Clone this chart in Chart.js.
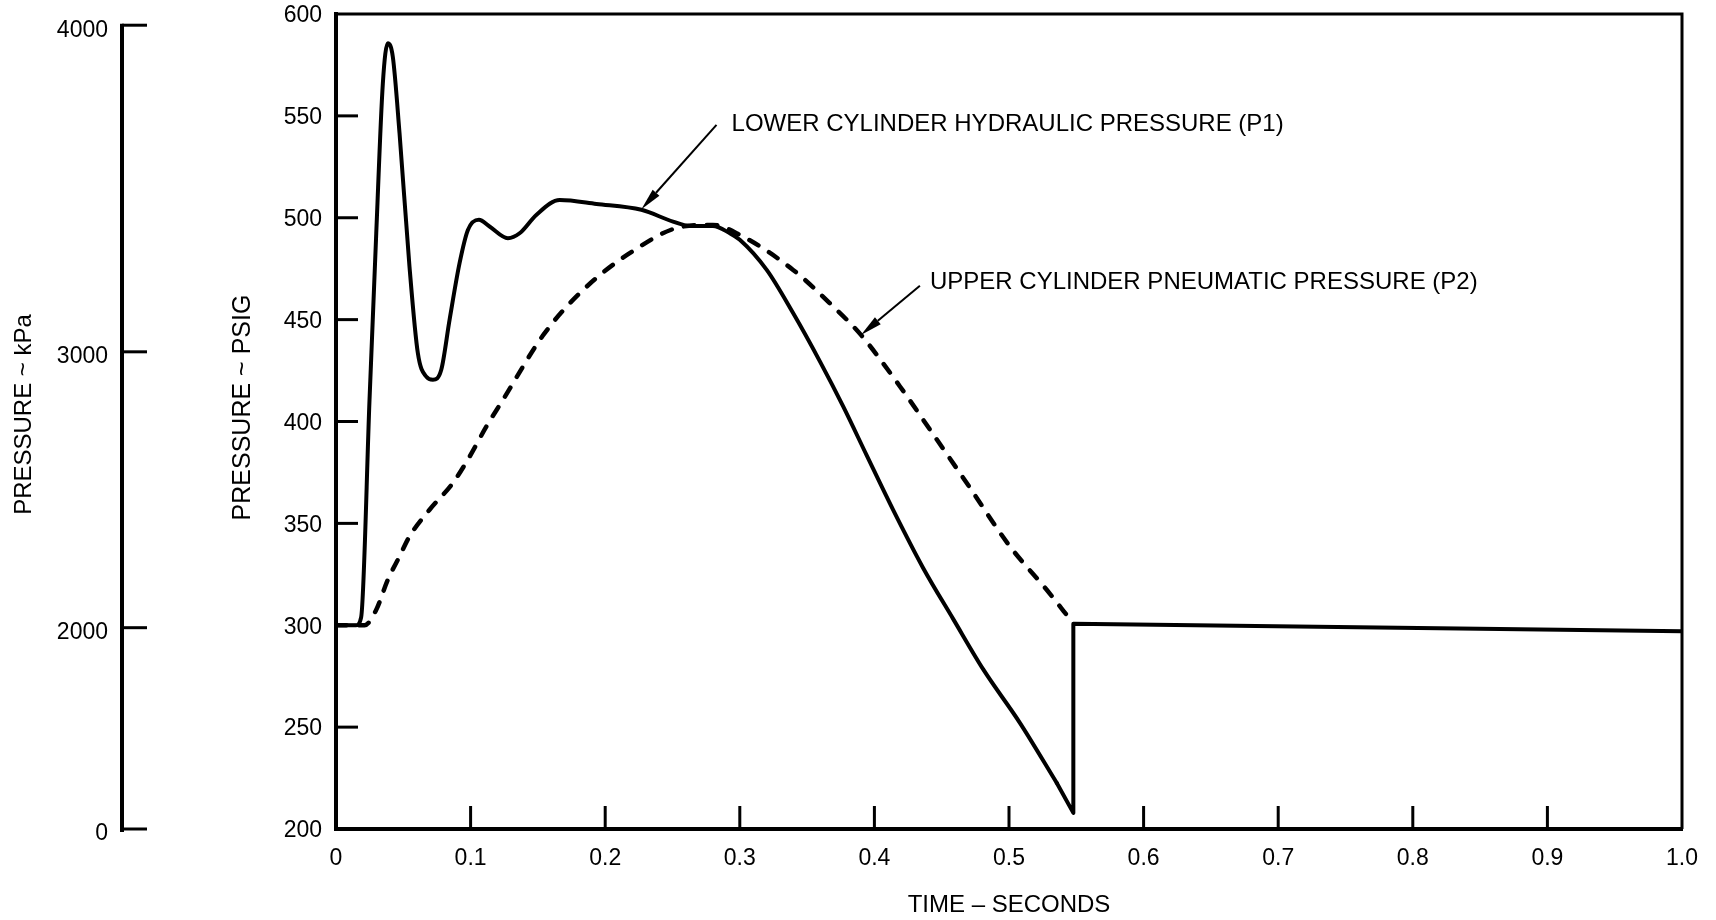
<!DOCTYPE html>
<html>
<head>
<meta charset="utf-8">
<script src="https://cdn.jsdelivr.net/npm/chart.js@4.4.1/dist/chart.umd.min.js"></script>
<style>
html,body{margin:0;padding:0;background:#fff;}
#wrap{width:1716px;height:920px;position:relative;}
</style>
</head>
<body>
<div id="wrap"><canvas id="c" width="1716" height="920"></canvas></div>
<script>
// ---- data (time in seconds, pressure in psig) ----
const p1Time = [0, 0.0149, 0.0187, 0.0249, 0.0299, 0.0348, 0.0385, 0.0422, 0.0472, 0.0546, 0.0608, 0.0671, 0.0720, 0.0782, 0.0844, 0.0918, 0.0980, 0.1062, 0.1141, 0.1277, 0.1364, 0.1488, 0.1662, 0.1935, 0.2269, 0.2504, 0.2628, 0.2800, 0.2926, 0.3000, 0.3200, 0.3396, 0.3595, 0.3768, 0.3942, 0.4140, 0.4363, 0.4586, 0.4810, 0.5082, 0.5355];
const p1Psig = [300, 300, 304, 410.6, 492.4, 566, 585.7, 579, 541.5, 476, 433.6, 422, 420.5, 425.4, 450, 477.7, 494, 499, 495.7, 490, 492.4, 501.4, 508.7, 506.8, 503.9, 498.1, 496, 496, 492.4, 489.2, 474.4, 453.2, 429.5, 407.4, 383.5, 356.5, 328, 303, 278.2, 252, 222.6];
const p1StepTime = [0.5355, 0.5478, 0.5478, 1.0];
const p1StepPsig = [222.6, 207.9, 300.7, 297];
const p2Time = [0, 0.0212, 0.0299, 0.0385, 0.0472, 0.0546, 0.0695, 0.0868, 0.0993, 0.1117, 0.1240, 0.1546, 0.1835, 0.2182, 0.2578, 0.2800, 0.3000, 0.3396, 0.3694, 0.3900, 0.4190, 0.4413, 0.4686, 0.5007, 0.5280, 0.5466];
const p2Psig = [300, 300, 307.6, 322.3, 333.8, 343.6, 356.7, 369.8, 382.8, 397.5, 410.6, 443, 464.5, 482.6, 495.7, 496.5, 491.6, 474.4, 456.4, 442.5, 417.2, 396, 369.8, 338.7, 317.4, 301.9];

const xTickValues = [0, 0.1, 0.2, 0.3, 0.4, 0.5, 0.6, 0.7, 0.8, 0.9, 1.0];
const xTickLabels = ['0', '0.1', '0.2', '0.3', '0.4', '0.5', '0.6', '0.7', '0.8', '0.9', '1.0'];
const psigTickValues = [200, 250, 300, 350, 400, 450, 500, 550, 600];
const kpaTickLabels = ['0', '2000', '3000', '4000'];
const kpaTickAtPsig = [200, 298.8, 434.2, 594.5];

const annotations = [
  {text: 'LOWER CYLINDER HYDRAULIC PRESSURE (P1)', tip: [0.2269, 504.2], tail: [0.2827, 545.6], label: [0.2939, 545.8]},
  {text: 'UPPER CYLINDER PNEUMATIC PRESSURE (P2)', tip: [0.3900, 442.5], tail: [0.4338, 466.6], label: [0.4413, 468.5]}
];

const FONT = "'Liberation Sans', Arial, Helvetica, sans-serif";
Chart.defaults.font.family = FONT;
Chart.defaults.color = '#000';

const toXY = (xs, ys) => xs.map((t, i) => ({x: t, y: ys[i]}));

const framePlugin = {
  id: 'frame',
  afterDraw(chart) {
    const {ctx, chartArea: a, scales: {x, y, yk}} = chart;
    ctx.save();
    ctx.strokeStyle = '#000';
    ctx.fillStyle = '#000';
    ctx.lineCap = 'butt';
    // top and right frame
    ctx.lineWidth = 3;
    ctx.beginPath();
    ctx.moveTo(a.left, a.top);
    ctx.lineTo(a.right, a.top);
    ctx.lineTo(a.right, a.bottom);
    ctx.stroke();
    // inward ticks on psig axis
    psigTickValues.forEach(v => {
      if (v === y.min || v === y.max) return;
      const py = y.getPixelForValue(v);
      ctx.beginPath(); ctx.moveTo(a.left, py); ctx.lineTo(a.left + 22, py); ctx.stroke();
    });
    // inward ticks on time axis
    xTickValues.forEach(v => {
      if (v === x.min || v === x.max) return;
      const px = x.getPixelForValue(v);
      ctx.beginPath(); ctx.moveTo(px, a.bottom); ctx.lineTo(px, a.bottom - 23); ctx.stroke();
    });
    // kPa axis
    const kx = yk.right;
    const kTop = yk.getPixelForValue(kpaTickAtPsig[kpaTickAtPsig.length - 1]);
    const kBot = yk.getPixelForValue(kpaTickAtPsig[0]);
    ctx.lineWidth = 4;
    ctx.beginPath(); ctx.moveTo(kx, kTop - 1.5); ctx.lineTo(kx, kBot + 3); ctx.stroke();
    ctx.lineWidth = 3;
    kpaTickAtPsig.forEach(v => {
      const py = yk.getPixelForValue(v);
      ctx.beginPath(); ctx.moveTo(kx, py); ctx.lineTo(kx + 25, py); ctx.stroke();
    });
    // y axis titles
    ctx.textAlign = 'center';
    ctx.textBaseline = 'middle';
    [[yk.left + 24, 414.5, 'PRESSURE ~ kPa', 24], [y.left + 121.5, 407.5, 'PRESSURE ~ PSIG', 25]].forEach(([tx, ty, s, fs]) => {
      ctx.font = fs + 'px ' + FONT;
      ctx.save(); ctx.translate(tx, ty); ctx.rotate(-Math.PI / 2); ctx.fillText(s, 0, 0); ctx.restore();
    });
    // annotations with arrows
    ctx.font = '24px ' + FONT;
    ctx.textAlign = 'left';
    annotations.forEach(an => {
      const tx = x.getPixelForValue(an.tip[0]), ty = y.getPixelForValue(an.tip[1]);
      const sx = x.getPixelForValue(an.tail[0]), sy = y.getPixelForValue(an.tail[1]);
      const ang = Math.atan2(ty - sy, tx - sx);
      const hl = 22, hw = 4.5;
      const bx = tx - hl * Math.cos(ang), by = ty - hl * Math.sin(ang);
      ctx.lineWidth = 2;
      ctx.beginPath(); ctx.moveTo(sx, sy); ctx.lineTo(bx, by); ctx.stroke();
      ctx.beginPath();
      ctx.moveTo(tx, ty);
      ctx.lineTo(bx + hw * Math.sin(ang), by - hw * Math.cos(ang));
      ctx.lineTo(bx - hw * Math.sin(ang), by + hw * Math.cos(ang));
      ctx.closePath(); ctx.fill();
      ctx.fillText(an.text, x.getPixelForValue(an.label[0]), y.getPixelForValue(an.label[1]));
    });
    ctx.restore();
  }
};

new Chart(document.getElementById('c'), {
  type: 'line',
  data: {
    datasets: [
      {label: 'P1', data: toXY(p1Time, p1Psig), borderColor: '#000', borderWidth: 4, pointRadius: 0,
       cubicInterpolationMode: 'monotone', borderCapStyle: 'round', borderJoinStyle: 'round', order: 0},
      {label: 'P1 step', data: toXY(p1StepTime, p1StepPsig), borderColor: '#000', borderWidth: 4, pointRadius: 0,
       tension: 0, borderCapStyle: 'round', borderJoinStyle: 'round', order: 0},
      {label: 'P2', data: toXY(p2Time, p2Psig), borderColor: '#000', borderWidth: 4.5, pointRadius: 0,
       cubicInterpolationMode: 'monotone', borderDash: [10.5, 12.5], borderCapStyle: 'round', order: 1}
    ]
  },
  options: {
    responsive: false,
    devicePixelRatio: 1,
    animation: false,
    layout: {padding: {top: 0, right: 0, left: 0, bottom: 0}},
    plugins: {legend: {display: false}, tooltip: {enabled: false}},
    scales: {
      x: {
        type: 'linear', position: 'bottom', min: 0, max: 1,
        afterBuildTicks: s => { s.ticks = xTickValues.map(v => ({value: v})); },
        afterFit: s => { s.height = 91; s.paddingLeft = 0; s.paddingRight = 34; },
        ticks: {callback: (v, i) => xTickLabels[i], font: {size: 23}, color: '#000', padding: 16, maxRotation: 0, autoSkip: false},
        grid: {display: false, drawTicks: false},
        border: {display: true, color: '#000', width: 4},
        title: {display: true, text: 'TIME – SECONDS', font: {size: 24}, color: '#000', padding: {top: 0, bottom: 0}}
      },
      y: {
        type: 'linear', position: 'left', min: 200, max: 600, weight: 0,
        afterBuildTicks: s => { s.ticks = psigTickValues.map(v => ({value: v})); },
        afterFit: s => { s.width = 214; s.paddingTop = 14; s.paddingBottom = 0; },
        ticks: {callback: v => String(v), font: {size: 23}, color: '#000', padding: 14, labelOffset: 2, autoSkip: false},
        grid: {display: false, drawTicks: false},
        border: {display: true, color: '#000', width: 4}
      },
      yk: {
        type: 'linear', position: 'left', min: 200, max: 600, weight: 1,
        afterBuildTicks: s => { s.ticks = kpaTickAtPsig.map(v => ({value: v})); },
        afterFit: s => { s.width = 122; s.paddingTop = 14; s.paddingBottom = 0; },
        ticks: {callback: (v, i) => kpaTickLabels[i], font: {size: 23}, color: '#000', padding: 14, labelOffset: 5, autoSkip: false},
        grid: {display: false, drawTicks: false},
        border: {display: false}
      }
    }
  },
  plugins: [framePlugin]
});
</script>
</body>
</html>
